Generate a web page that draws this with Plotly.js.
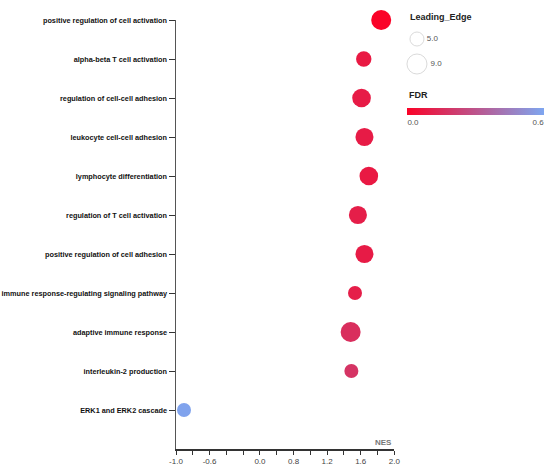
<!DOCTYPE html>
<html>
<head>
<meta charset="utf-8">
<script src="https://cdn.plot.ly/plotly-3.0.1.min.js"></script>
<style>html,body{margin:0;padding:0;background:#fff;}#chart{width:550px;height:466px;}</style>
</head>
<body>
<div id="chart"></div>
<script>
// ---- data ----
var terms = [
  'positive regulation of cell activation',
  'alpha-beta T cell activation',
  'regulation of cell-cell adhesion',
  'leukocyte cell-cell adhesion',
  'lymphocyte differentiation',
  'regulation of T cell activation',
  'positive regulation of cell adhesion',
  'immune response-regulating signaling pathway',
  'adaptive immune response',
  'interleukin-2 production',
  'ERK1 and ERK2 cascade'
];
var nes = [1.82, 1.58, 1.55, 1.59, 1.65, 1.50, 1.59, 1.46, 1.40, 1.41, -0.89];
var leadingEdge = [9.0, 5.9, 8.1, 7.7, 8.1, 7.7, 7.7, 5.0, 9.0, 5.0, 5.0];
var fdr = [0.0, 0.08, 0.09, 0.09, 0.08, 0.10, 0.09, 0.10, 0.16, 0.18, 0.59];
var xTickLabels = ['-1.0','','-0.6','','','0.0','','0.8','','1.2','','1.6','','2.0'];
var sizeLegendValues = [5.0, 9.0];
var sizeLegendLabels = ['5.0', '9.0'];
var fdrTickLabels = ['0.0', '0.6'];

// ---- styling helpers ----
function sz(v) { return 6.5 + 1.5 * v; }
var xMin = -1.0, xMax = 2.0;
var xTickVals = xTickLabels.map(function (_, i) { return xMin + i * (xMax - xMin) / (xTickLabels.length - 1); });
var FONT = 'Liberation Sans, Arial, sans-serif';

var main = {
  type: 'scatter', mode: 'markers',
  x: nes, y: terms,
  cliponaxis: false,
  hoverinfo: 'skip',
  marker: {
    size: leadingEdge.map(sz),
    color: fdr, cmin: 0, cmax: 0.6,
    colorscale: [[0, '#fa0328'], [1, '#7ea6f0']],
    line: { width: 0 },
    opacity: 1,
    showscale: true,
    colorbar: {
      orientation: 'h',
      x: 0.8139, xanchor: 'center',
      y: 0.7956, yanchor: 'top',
      len: 137, lenmode: 'pixels',
      thickness: 7, thicknessmode: 'pixels',
      outlinewidth: 0,
      xpad: 0, ypad: 0,
      ticks: '',
      tickvals: [0.026, 0.574],
      ticktext: fdrTickLabels,
      tickfont: { family: FONT, size: 8, color: '#555' },
      title: { text: '' }
    }
  },
  xaxis: 'x', yaxis: 'y',
  showlegend: false
};

var sizeLegend = {
  type: 'scatter', mode: 'markers+text',
  x: sizeLegendValues.map(function () { return 0.137; }),
  y: sizeLegendValues.map(function (_, i) { return i; }),
  text: sizeLegendLabels,
  textposition: 'middle right',
  textfont: { family: FONT, size: 8, color: '#555' },
  cliponaxis: false,
  hoverinfo: 'skip',
  marker: { size: sizeLegendValues.map(sz), color: '#ffffff', line: { color: '#cccccc', width: 1 } },
  xaxis: 'x2', yaxis: 'y2',
  showlegend: false
};

var layout = {
  width: 550, height: 466,
  margin: { l: 176, r: 6, t: 20, b: 17, pad: 0 },
  paper_bgcolor: '#fff', plot_bgcolor: '#fff',
  showlegend: false,
  xaxis: {
    domain: [0, 0.5932],
    range: [xMin, xMax],
    tickvals: xTickVals, ticktext: xTickLabels,
    ticks: 'outside', ticklen: 4, tickwidth: 1, tickcolor: '#333',
    showline: true, linecolor: '#333', linewidth: 1.5,
    showgrid: false, zeroline: false,
    tickfont: { family: FONT, size: 8, color: '#444' },
    fixedrange: true
  },
  yaxis: {
    type: 'category',
    categoryorder: 'array', categoryarray: terms,
    range: [terms.length, 0],
    ticks: 'outside', ticklen: 6, tickwidth: 1, tickcolor: '#333',
    showline: true, linecolor: '#555', linewidth: 1.5,
    showgrid: false, zeroline: false,
    tickfont: { family: FONT, size: 7.3, color: '#111', weight: 'bold' },
    fixedrange: true
  },
  xaxis2: {
    domain: [0.6, 1], range: [0, 1], anchor: 'y2',
    visible: false, fixedrange: true
  },
  yaxis2: {
    domain: [0.8, 1], range: [2.672, -0.76], anchor: 'x2',
    visible: false, fixedrange: true
  },
  annotations: [
    { text: 'NES', xref: 'paper', yref: 'paper', x: 0.5932, y: 0.016,
      xanchor: 'right', yanchor: 'middle', showarrow: false,
      font: { family: FONT, size: 8, color: '#777', weight: 'bold' } },
    { text: 'Leading_Edge', xref: 'paper', yref: 'paper', x: (408 - 176) / 368, y: (449 - 17) / 429,
      xanchor: 'left', yanchor: 'middle', showarrow: false,
      font: { family: FONT, size: 9, color: '#222', weight: 'bold' } },
    { text: 'FDR', xref: 'paper', yref: 'paper', x: (407 - 176) / 368, y: (449 - 95) / 429,
      xanchor: 'left', yanchor: 'middle', showarrow: false,
      font: { family: FONT, size: 9, color: '#222', weight: 'bold' } }
  ]
};

Plotly.newPlot('chart', [main, sizeLegend], layout, { staticPlot: true, displayModeBar: false });
</script>
</body>
</html>
